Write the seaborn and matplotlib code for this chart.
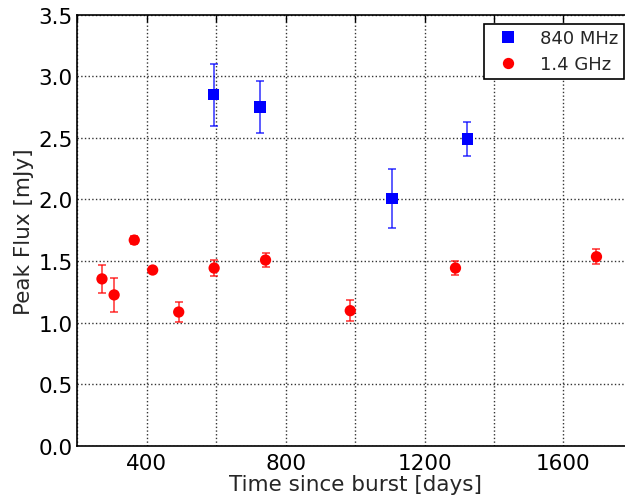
import numpy as np
import pandas as pd
import matplotlib
matplotlib.use("Agg")
import matplotlib.pyplot as plt
import seaborn as sns

# 840 MHz data
t_840 = [593, 726, 1106, 1323]
f_840 = [2.85, 2.75, 2.01, 2.49]
e_840 = [0.25, 0.21, 0.24, 0.135]

# 1.4 GHz data
t_14 = [271, 306, 364, 417, 492, 594, 742, 986, 1289, 1695]
f_14 = [1.355, 1.225, 1.670, 1.427, 1.086, 1.443, 1.508, 1.097, 1.443, 1.535]
e_14 = [0.116, 0.135, 0.03, 0.02, 0.08, 0.066, 0.054, 0.085, 0.054, 0.06]

labels = ["840 MHz", "1.4 GHz"]
xtick_vals = [200, 400, 600, 800, 1000, 1200, 1400, 1600, 1800]
xtick_labels = ["", "400", "", "800", "", "1200", "", "1600", ""]
ytick_vals = [0.0, 0.5, 1.0, 1.5, 2.0, 2.5, 3.0, 3.5]

sns.set_style("white")
plt.rcParams['font.family'] = ['DejaVu Sans']

fig = plt.figure(figsize=(6.25, 5.02), dpi=100)
# axes extend slightly past the right edge of the image (as in the reference crop)
ax = fig.add_axes([0.1237, 0.110, 0.889, 0.8587])

df = pd.concat([
    pd.DataFrame({"t": t_840, "f": f_840, "band": labels[0]}),
    pd.DataFrame({"t": t_14, "f": f_14, "band": labels[1]}),
])

ax.errorbar(t_840, f_840, yerr=e_840, fmt="none", ecolor="blue", alpha=0.75,
            capsize=3, elinewidth=1.2, capthick=1.2, zorder=2)
ax.errorbar(t_14, f_14, yerr=e_14, fmt="none", ecolor="red", alpha=0.75,
            capsize=3, elinewidth=1.2, capthick=1.2, zorder=2)

sns.scatterplot(data=df, x="t", y="f", hue="band", style="band",
                palette={labels[0]: "blue", labels[1]: "red"},
                markers={labels[0]: "s", labels[1]: "o"},
                s=66, edgecolor="none", linewidth=0, ax=ax, zorder=3)

ax.set_xlim(200, 1800)
ax.set_ylim(0, 3.5)
ax.set_xticks(xtick_vals)
ax.set_xticklabels(xtick_labels)
ax.set_yticks(ytick_vals)
ax.set_yticklabels([f"{v:.1f}" for v in ytick_vals])
ax.tick_params(direction="in", length=5, width=1, top=True, right=True,
               labelsize=15.5, colors="black")
ax.tick_params(axis="y", pad=3.5)
ax.tick_params(axis="x", pad=5)
ax.grid(True, linestyle=":", color="black", linewidth=1, alpha=0.8)
for s in ax.spines.values():
    s.set_color("black")
    s.set_linewidth(1.2)
    s.set_visible(True)

ax.set_xlabel("Time since burst [days]", fontsize=15.5, labelpad=1)
ax.set_ylabel("Peak Flux [mJy]", fontsize=15.5, labelpad=3)

leg = ax.legend(loc="upper right", fontsize=13, frameon=True, fancybox=False,
                edgecolor="black", framealpha=1, borderpad=0.3,
                handletextpad=0.8, labelspacing=0.45, markerscale=1.0)
leg.get_frame().set_linewidth(1.2)

fig.savefig("out.png", dpi=100)
